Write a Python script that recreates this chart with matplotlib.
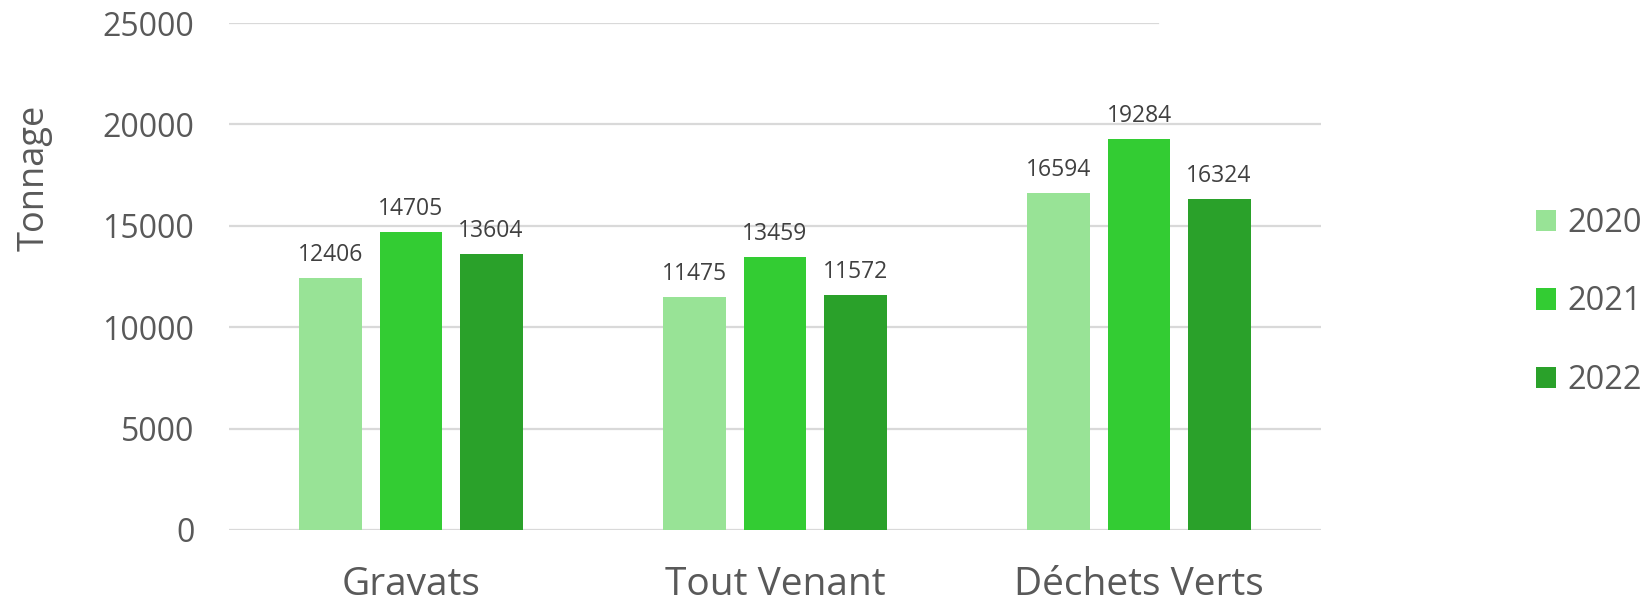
import numpy as np
import matplotlib.pyplot as plt
from matplotlib.patches import Patch

categories = ['Gravats', 'Tout Venant', 'Déchets Verts']
years = ['2020', '2021', '2022']
v2020 = [12406, 11475, 16594]
v2021 = [14705, 13459, 19284]
v2022 = [13604, 11572, 16324]
yticks = [0, 5000, 10000, 15000, 20000, 25000]

colors = ['#98E396', '#33CC33', '#2AA12A']
grey = '#595959'

plt.rcParams['font.family'] = ['Open Sans', 'DejaVu Sans']

fig = plt.figure(figsize=(16.5, 6.04), dpi=100)
ax = fig.add_axes([229/1650, 1-530/604, (1321-229)/1650, (530-23)/604])

x = np.arange(len(categories))
width = 0.173   # bar width
step = 0.22     # distance between bars in a group

series = [v2020, v2021, v2022]
for i, vals in enumerate(series):
    bars = ax.bar(x + (i-1)*step, vals, width, color=colors[i], zorder=3)
    ax.bar_label(bars, labels=['%d' % v for v in vals], padding=8,
                 fontsize=16.5, color='#404040')

ax.set_xlim(-0.5, 2.5)
ax.set_ylim(0, 25000)
ax.set_yticks(yticks)
ax.set_yticklabels([str(t) for t in yticks], fontsize=23, color=grey)
ax.set_xticks(x)
ax.set_xticklabels(categories, fontsize=28, color=grey)
ax.tick_params(axis='y', length=0, pad=25)
ax.tick_params(axis='x', length=0, pad=26)

# gridlines (the top one is cut short in the original)
for t in yticks:
    xmax = 0.851 if t == 25000 else 1.0
    ax.axhline(t, xmin=0, xmax=xmax, color='#D9D9D9', lw=1.6, zorder=1)
for s in ax.spines.values():
    s.set_visible(False)

fig.text(35/1650, 1-178/604, 'Tonnage', rotation=90, fontsize=26,
         color=grey, ha='center', va='center')

handles = [Patch(facecolor=c) for c in colors]
fig.legend(handles, years, loc='center left', bbox_to_anchor=(1536/1650, 1-302/604),
           frameon=False, fontsize=23.5, labelcolor=grey, handlelength=0.62,
           handleheight=0.62, handletextpad=0.35, labelspacing=1.4,
           borderpad=0, borderaxespad=0)

plt.savefig('out.png', dpi=100)
